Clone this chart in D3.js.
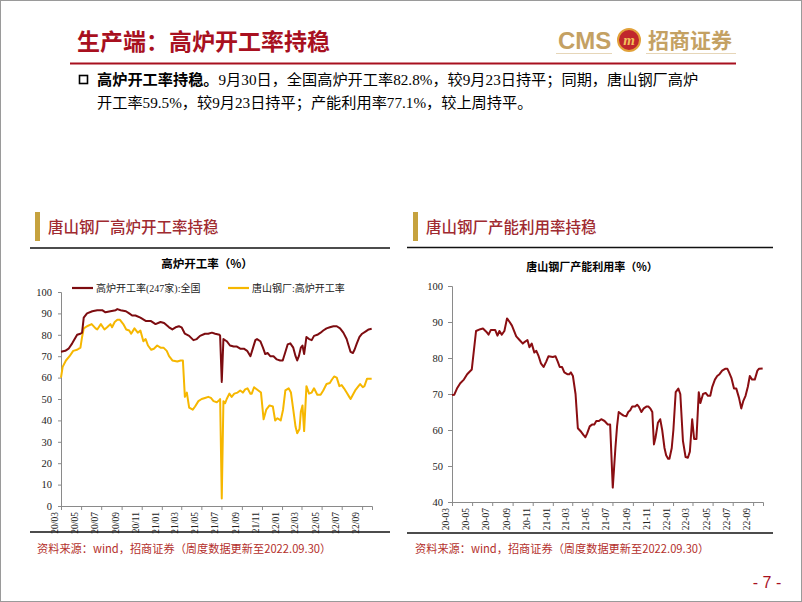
<!DOCTYPE html>
<html><head><meta charset="utf-8">
<script src="https://cdn.jsdelivr.net/npm/d3@7"></script>
<style>
html,body{margin:0;padding:0;background:#fff;}
svg{display:block;}
</style></head>
<body>
<svg id="page" width="802" height="602"></svg>
<script>
// ---------------- DATA ----------------
const nationalRate = [
["2020-03-01",72.1],["2020-03-14",72.5],["2020-03-24",73.5],["2020-04-04",76],["2020-04-19",80],["2020-04-29",80.5],["2020-05-04",81],["2020-05-09",88],["2020-05-19",90],["2020-06-04",91],["2020-06-19",91.5],["2020-07-04",91.5],["2020-07-14",90.5],["2020-07-29",91],["2020-08-14",91.5],["2020-08-19",92],["2020-08-29",91.5],["2020-09-14",91],["2020-09-24",90],["2020-10-03",89],["2020-10-13",89],["2020-10-28",88],["2020-11-13",86.5],["2020-11-28",86.5],["2020-12-13",85],["2020-12-28",86],["2021-01-08",85.5],["2021-01-23",83.5],["2021-02-02",82.5],["2021-02-12",83.5],["2021-02-22",84],["2021-03-02",83.5],["2021-03-12",80.5],["2021-03-25",79.5],["2021-04-07",77.5],["2021-04-17",78],["2021-04-27",79.5],["2021-05-12",80.5],["2021-05-22",80.5],["2021-06-02",81],["2021-06-12",80.5],["2021-06-25",80],["2021-06-27",79.5],["2021-07-02",58],["2021-07-07",78],["2021-07-17",77],["2021-07-27",75],["2021-08-07",74.5],["2021-08-17",74.5],["2021-08-27",73.5],["2021-09-07",73.5],["2021-09-17",72.5],["2021-09-27",70],["2021-10-05",74],["2021-10-12",77.5],["2021-10-17",78],["2021-10-27",77],["2021-11-04",74],["2021-11-11",71],["2021-11-18",71.5],["2021-11-26",70],["2021-12-06",70],["2021-12-16",68.5],["2021-12-26",68],["2022-01-03",68],["2022-01-11",72],["2022-01-18",75.5],["2022-01-26",76],["2022-02-04",74],["2022-02-11",70],["2022-02-16",68],["2022-02-21",70],["2022-02-27",74],["2022-03-04",75],["2022-03-09",71],["2022-03-16",79],["2022-03-24",78],["2022-04-01",77.5],["2022-04-08",79.5],["2022-04-18",80],["2022-04-28",81],["2022-05-06",82],["2022-05-16",83],["2022-05-26",83.5],["2022-06-06",84],["2022-06-16",84],["2022-06-26",83],["2022-07-06",81],["2022-07-16",78],["2022-07-21",75.5],["2022-07-28",72],["2022-08-04",71.5],["2022-08-09",73],["2022-08-16",76],["2022-08-24",79],["2022-09-01",80.5],["2022-09-11",81.5],["2022-09-21",82.5],["2022-09-30",82.8]
];
const tangshanRate = [
["2020-03-01",60],["2020-03-06",65],["2020-03-16",68],["2020-03-27",70],["2020-04-07",72.5],["2020-04-19",73],["2020-04-29",74],["2020-05-04",79],["2020-05-09",83],["2020-05-19",84],["2020-06-02",85],["2020-06-14",83],["2020-06-19",82.5],["2020-06-30",85],["2020-07-11",82.5],["2020-07-19",83.5],["2020-07-29",85],["2020-08-03",83.5],["2020-08-11",86],["2020-08-19",87],["2020-08-27",87],["2020-09-06",85],["2020-09-15",82.5],["2020-09-24",82],["2020-09-30",80.5],["2020-10-10",83],["2020-10-20",81],["2020-10-28",82],["2020-11-06",77],["2020-11-13",78],["2020-11-20",75],["2020-11-30",73],["2020-12-08",73.5],["2020-12-18",75],["2020-12-28",74],["2021-01-06",74],["2021-01-16",72.5],["2021-01-23",70],["2021-02-02",68],["2021-02-17",67.5],["2021-02-27",68],["2021-03-06",68],["2021-03-12",51],["2021-03-18",53],["2021-03-25",46],["2021-04-05",45],["2021-04-12",46.5],["2021-04-22",49],["2021-05-02",50],["2021-05-12",50.5],["2021-05-22",51],["2021-05-30",50.5],["2021-06-07",49],["2021-06-17",48.5],["2021-06-25",49.5],["2021-06-27",50],["2021-07-02",3.5],["2021-07-07",49],["2021-07-12",48],["2021-07-17",50],["2021-07-25",52.5],["2021-08-01",51],["2021-08-09",52.5],["2021-08-19",53],["2021-08-27",54],["2021-09-04",53],["2021-09-11",54.5],["2021-09-18",55],["2021-09-27",52.5],["2021-10-01",52.5],["2021-10-08",55.5],["2021-10-21",54],["2021-10-29",53],["2021-11-06",40.5],["2021-11-14",45],["2021-11-24",47],["2021-12-04",46.5],["2021-12-11",40],["2021-12-18",41],["2021-12-28",40],["2022-01-04",45],["2022-01-11",54],["2022-01-21",55],["2022-01-28",53],["2022-02-04",45],["2022-02-11",37],["2022-02-16",34],["2022-02-23",36],["2022-02-27",44],["2022-03-04",47],["2022-03-09",35],["2022-03-16",56],["2022-03-24",52.5],["2022-04-01",53],["2022-04-08",55],["2022-04-18",52],["2022-04-28",52],["2022-05-06",54],["2022-05-16",57],["2022-05-26",57.5],["2022-06-01",59],["2022-06-08",60.5],["2022-06-16",60],["2022-06-24",56],["2022-07-01",56.5],["2022-07-08",55],["2022-07-16",53],["2022-07-24",51],["2022-07-28",50],["2022-08-04",52],["2022-08-11",54],["2022-08-21",56],["2022-08-26",57],["2022-09-03",55.5],["2022-09-08",56],["2022-09-16",59.5],["2022-09-30",59.5]
];
const capacityRate = [
["2020-03-01",69.7],["2020-03-08",69.8],["2020-03-16",71.5],["2020-03-26",73],["2020-04-06",74],["2020-04-16",75.5],["2020-04-30",76.8],["2020-05-13",87.5],["2020-05-26",88],["2020-06-03",88.2],["2020-06-13",87.3],["2020-06-20",86.5],["2020-06-27",87.8],["2020-07-10",87.8],["2020-07-17",86.2],["2020-07-23",87.5],["2020-07-30",86.5],["2020-08-07",87.5],["2020-08-15",91],["2020-08-23",90],["2020-08-30",89],["2020-09-12",86],["2020-09-22",85],["2020-10-02",84],["2020-10-08",84.5],["2020-10-16",85],["2020-10-22",83],["2020-10-29",84],["2020-11-06",81.5],["2020-11-12",82],["2020-11-19",80.5],["2020-11-26",78.5],["2020-12-04",77.5],["2020-12-12",79],["2020-12-19",80.5],["2021-01-01",80.3],["2021-01-09",80.5],["2021-01-16",79],["2021-01-22",77.5],["2021-01-29",77.5],["2021-02-05",76],["2021-02-14",75.5],["2021-02-20",75.5],["2021-02-25",76],["2021-03-03",75],["2021-03-11",70],["2021-03-18",60.5],["2021-03-28",59.5],["2021-04-05",58.5],["2021-04-10",58],["2021-04-15",59],["2021-04-23",61],["2021-04-30",61.5],["2021-05-07",61.5],["2021-05-13",62.5],["2021-05-21",62.5],["2021-05-28",63],["2021-06-07",62.5],["2021-06-12",62],["2021-06-17",61.5],["2021-06-24",61.5],["2021-07-02",44],["2021-07-10",55],["2021-07-15",61],["2021-07-20",65],["2021-07-27",64.5],["2021-08-04",64],["2021-08-12",63.8],["2021-08-18",65],["2021-08-24",65.5],["2021-08-30",66.5],["2021-09-08",66.5],["2021-09-14",67],["2021-09-19",66.5],["2021-09-27",65],["2021-10-04",66],["2021-10-12",66.5],["2021-10-18",66.5],["2021-10-24",66],["2021-10-30",65],["2021-11-04",56],["2021-11-09",58],["2021-11-16",62],["2021-11-23",63],["2021-11-29",60],["2021-12-06",55],["2021-12-11",53],["2021-12-17",52],["2021-12-21",52],["2021-12-28",55],["2022-01-02",60],["2022-01-09",70.5],["2022-01-17",71.5],["2022-01-23",70],["2022-01-31",57],["2022-02-08",52.5],["2022-02-15",52.3],["2022-02-21",54],["2022-02-28",63],["2022-03-06",57.5],["2022-03-13",57.5],["2022-03-20",70.5],["2022-03-25",67.5],["2022-04-02",70],["2022-04-10",70.3],["2022-04-17",69.5],["2022-04-24",69.5],["2022-04-30",72],["2022-05-08",74],["2022-05-15",75],["2022-05-22",75.5],["2022-05-30",76.5],["2022-06-08",77],["2022-06-15",77],["2022-06-20",76],["2022-06-27",74.5],["2022-07-05",71.5],["2022-07-12",71.5],["2022-07-20",69],["2022-07-27",66],["2022-08-02",68],["2022-08-09",69.5],["2022-08-16",72],["2022-08-22",75],["2022-08-29",74],["2022-09-06",74],["2022-09-14",76.5],["2022-09-19",77],["2022-09-30",77.1]
];
const leftYTicks = [0,10,20,30,40,50,60,70,80,90,100];
const rightYTicks = [40,50,60,70,80,90,100];
const legendLabels = ["高炉开工率(247家):全国","唐山钢厂:高炉开工率"];
const dateStart = "2020-03-01", dateEnd = "2022-10-01";

// ---------------- RENDER ----------------
const parse = d3.timeParse("%Y-%m-%d");
const svg = d3.select("#page");
const RED = "#a8101f", GOLD = "#c4a163", DARK = "#7d0c10", YEL = "#f6b700";
const CJK = "'Noto Sans CJK SC','Noto Sans',sans-serif";
const SERIF = "'Liberation Serif','Times New Roman','Noto Sans CJK SC',serif";

svg.append("rect").attr("x",0.5).attr("y",0.5).attr("width",801).attr("height",601)
  .attr("fill","#fff").attr("stroke","#9a9a9a");

// header
svg.append("text").attr("x",77).attr("y",50).attr("fill",RED)
  .style("font-family",CJK).style("font-size","23px").style("font-weight","700")
  .text("生产端：高炉开工率持稳");
svg.append("line").attr("x1",70).attr("x2",736).attr("y1",63.5).attr("y2",63.5)
  .attr("stroke",RED).attr("stroke-width",2);
// logo
svg.append("text").attr("x",558).attr("y",49).attr("fill",GOLD)
  .style("font-family","'Liberation Sans',Arial,sans-serif").style("font-size","24px").style("font-weight","700")
  .text("CMS");
svg.append("circle").attr("cx",629).attr("cy",40).attr("r",11).attr("fill","#c0282c").attr("stroke","#e2a23a").attr("stroke-width",2);
svg.append("text").attr("x",629).attr("y",45).attr("text-anchor","middle").attr("fill","#f3c15a")
  .style("font-family","'Liberation Serif',serif").style("font-size","15px").style("font-style","italic").style("font-weight","700").text("m");
svg.append("text").attr("x",648).attr("y",48).attr("fill",GOLD)
  .style("font-family",CJK).style("font-size","21px").style("font-weight","700").text("招商证券");
svg.append("line").attr("x1",556).attr("x2",612).attr("y1",53.5).attr("y2",53.5).attr("stroke","#e6d6b8").attr("stroke-width",1);
svg.append("line").attr("x1",646).attr("x2",736).attr("y1",53.5).attr("y2",53.5).attr("stroke","#e6d6b8").attr("stroke-width",1);

// bullet paragraph
svg.append("rect").attr("x",79.5).attr("y",75.5).attr("width",8).attr("height",8)
  .attr("fill","none").attr("stroke","#000").attr("stroke-width",1.6);
const p1 = svg.append("text").attr("x",97).attr("y",85).style("font-family",SERIF).style("font-size","15.2px").attr("fill","#000");
p1.append("tspan").style("font-weight","700").style("font-family",CJK).text("高炉开工率持稳。");
p1.append("tspan").text("9月30日，全国高炉开工率82.8%，较9月23日持平；同期，唐山钢厂高炉");
svg.append("text").attr("x",97).attr("y",108).style("font-family",SERIF).style("font-size","15.2px").attr("fill","#000")
  .text("开工率59.5%，较9月23日持平；产能利用率77.1%，较上周持平。");

// section headers
function section(x0, barX, x1, title, lineY) {
  svg.append("rect").attr("x",barX).attr("y",212).attr("width",5).attr("height",29).attr("fill","#c6a23e");
  svg.append("text").attr("x",barX+13).attr("y",233).attr("fill","#a02a30")
    .style("font-family",CJK).style("font-size","15.5px").style("font-weight","500").text(title);
  svg.append("line").attr("x1",x0).attr("x2",x1).attr("y1",lineY).attr("y2",lineY).attr("stroke","#111").attr("stroke-width",1.6);
}
section(30, 35, 390, "唐山钢厂高炉开工率持稳", 248);
section(407, 413, 773, "唐山钢厂产能利用率持稳", 247.5);

// bottom lines + source
svg.append("line").attr("x1",30).attr("x2",390).attr("y1",532).attr("y2",532).attr("stroke","#111").attr("stroke-width",1.6);
svg.append("line").attr("x1",407).attr("x2",773).attr("y1",533).attr("y2",533).attr("stroke","#111").attr("stroke-width",1.6);
const srcText = "资料来源：wind，招商证券（周度数据更新至2022.09.30）";
[37, 415].forEach(x => svg.append("text").attr("x",x).attr("y",553).attr("fill","#b4302c")
  .style("font-family",CJK).style("font-size","11.2px").text(srcText));

// page number
svg.append("text").attr("x",767).attr("y",588).attr("text-anchor","middle").attr("fill",RED)
  .style("font-family","'Liberation Sans',Arial,sans-serif").style("font-size","16px").text("- 7 -");

// chart builder
function chart(cfg) {
  const x = d3.scaleTime().domain([parse(dateStart), parse(dateEnd)]).range([cfg.x0, cfg.x1]);
  const y = d3.scaleLinear().domain(cfg.yDomain).range([cfg.yBottom, cfg.yTop]);
  const g = svg.append("g");
  const ticks = d3.timeMonth.every(2).range(parse(dateStart), parse(dateEnd));
  const xa = g.append("g").attr("transform",`translate(0,${cfg.yBottom})`)
    .call(d3.axisBottom(x).tickValues(ticks).tickFormat(d3.timeFormat(cfg.fmt)).tickSizeOuter(0).tickSize(4));
  xa.selectAll("text").attr("transform","rotate(-90)").attr("text-anchor","end")
    .attr("x",-6).attr("y",-3.5).attr("dy",0)
    .style("font-family",SERIF).style("font-size","9.5px").attr("fill","#222");
  const ya = g.append("g").attr("transform",`translate(${cfg.x0},0)`)
    .call(d3.axisLeft(y).tickValues(cfg.yTicks).tickSizeOuter(0).tickSize(cfg.yTickSize).tickPadding(cfg.yPad));
  ya.selectAll("text").style("font-family",SERIF).style("font-size","10.5px").attr("fill","#222");
  [xa, ya].forEach(a => { a.select(".domain").attr("stroke","#8a8a8a"); a.selectAll(".tick line").attr("stroke","#8a8a8a"); });
  const line = d3.line().x(d => x(parse(d[0]))).y(d => y(d[1])).curve(d3.curveLinear);
  cfg.series.forEach(s => g.append("path").datum(s.data).attr("d",line)
    .attr("fill","none").attr("stroke",s.color).attr("stroke-width",2).attr("stroke-linejoin","round"));
  return {x, y};
}

chart({x0:61, x1:372, yBottom:506, yTop:292, yDomain:[0,100], yTicks:leftYTicks, fmt:"%y/%m",
  yTickSize:3, yPad:6,
  series:[{data:tangshanRate,color:YEL},{data:nationalRate,color:DARK}]});
chart({x0:452, x1:763, yBottom:502, yTop:286, yDomain:[40,100], yTicks:rightYTicks, fmt:"%y-%m",
  yTickSize:4, yPad:5,
  series:[{data:capacityRate,color:"#8a0e12"}]});

// chart titles
svg.append("text").attr("x",207).attr("y",268).attr("text-anchor","middle").attr("fill","#000")
  .style("font-family",CJK).style("font-size","11.5px").style("font-weight","700").text("高炉开工率（%）");
svg.append("text").attr("x",592).attr("y",271).attr("text-anchor","middle").attr("fill","#000")
  .style("font-family",CJK).style("font-size","11px").style("font-weight","700").text("唐山钢厂产能利用率（%）");

// legend (left chart)
const legColors = [DARK, YEL];
const legX = [72, 228];
legendLabels.forEach((lab,i) => {
  svg.append("line").attr("x1",legX[i]).attr("x2",legX[i]+21).attr("y1",288).attr("y2",288)
    .attr("stroke",legColors[i]).attr("stroke-width",2.2);
  svg.append("text").attr("x",legX[i]+24).attr("y",291.5).attr("fill","#222")
    .style("font-family",SERIF).style("font-size","10px").text(lab);
});
</script>
</body></html>
